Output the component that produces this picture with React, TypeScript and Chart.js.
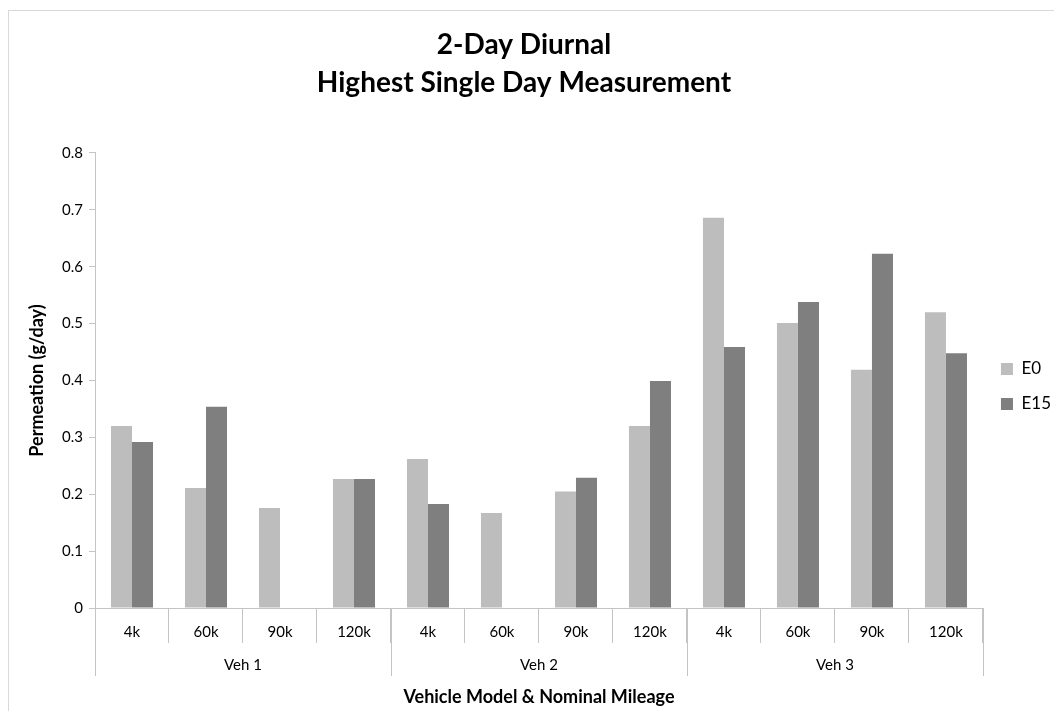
import React, { useEffect, useRef } from 'react';
import { Chart, registerables } from 'chart.js';

Chart.register(...registerables);

const VEHICLES = ['Veh 1', 'Veh 2', 'Veh 3'];
const MILEAGES = ['4k', '60k', '90k', '120k'];
const SERIES_NAMES = ['E0', 'E15'];
const E0_VALUES = [0.32, 0.211, 0.176, 0.227, 0.262, 0.167, 0.205, 0.32, 0.686, 0.501, 0.419, 0.52];
const E15_VALUES = [0.292, 0.354, null, 0.227, 0.183, null, 0.229, 0.399, 0.459, 0.538, 0.623, 0.448];
const Y_MIN = 0;
const Y_MAX = 0.8;
const Y_STEP = 0.1;

const TITLE_LINES = ['2-Day Diurnal', 'Highest Single Day Measurement'];
const X_TITLE = 'Vehicle Model & Nominal Mileage';
const Y_TITLE = 'Permeation (g/day)';

const FONT = 'Lato, "Open Sans", sans-serif';
const LINE_COLOR = '#c4c4c4';
const PAD_LEFT = -22;
const PAD_RIGHT = -7;

const CATEGORY_LABELS = VEHICLES.flatMap(() => MILEAGES);

const groupPlugin = {
  id: 'groupAxis',
  afterDraw(chart: any) {
    const xs = chart.scales.x;
    const ctx = chart.ctx;
    const bottom = chart.chartArea.bottom;
    const half = (xs.getPixelForValue(1) - xs.getPixelForValue(0)) / 2;
    const n = MILEAGES.length;
    ctx.save();
    ctx.strokeStyle = LINE_COLOR;
    ctx.lineWidth = 1;
    ctx.fillStyle = '#000';
    ctx.font = `15px ${FONT}`;
    ctx.textAlign = 'center';
    ctx.textBaseline = 'middle';
    VEHICLES.forEach((v, gi) => {
      const first = gi * n;
      const last = first + n - 1;
      const left = xs.getPixelForValue(first) - half;
      const right = xs.getPixelForValue(last) + half;
      [left, right].forEach((px) => {
        const xx = Math.round(px) + 0.5;
        ctx.beginPath();
        ctx.moveTo(xx, bottom);
        ctx.lineTo(xx, bottom + 68);
        ctx.stroke();
      });
      ctx.fillText(v, (left + right) / 2, bottom + 57);
    });
    ctx.restore();
  },
};

export default function App() {
  const ref = useRef<HTMLCanvasElement>(null);
  useEffect(() => {
    const chart = new Chart(ref.current as HTMLCanvasElement, {
      type: 'bar',
      data: {
        labels: CATEGORY_LABELS,
        datasets: [
          { label: SERIES_NAMES[0], data: E0_VALUES as any, backgroundColor: '#bdbdbd' },
          { label: SERIES_NAMES[1], data: E15_VALUES as any, backgroundColor: '#7f7f7f' },
        ],
      },
      options: {
        responsive: false,
        animation: false,
        layout: { padding: { left: PAD_LEFT, right: PAD_RIGHT, top: 0, bottom: 0 } },
        datasets: { bar: { categoryPercentage: 0.568, barPercentage: 1 } },
        plugins: {
          title: {
            display: true,
            text: TITLE_LINES,
            color: '#000',
            font: { family: FONT, size: 28, weight: 'bold', lineHeight: 1.357 },
            padding: { top: 15, bottom: 51 },
          },
          legend: {
            position: 'right',
            fullSize: false,
            title: { display: true, text: ' ', font: { size: 10, lineHeight: 1.2 }, padding: 0 },
            labels: {
              color: '#000',
              font: { family: FONT, size: 17 },
              boxWidth: 12,
              boxHeight: 12,
              padding: 18,
            },
          },
          tooltip: { enabled: false },
        },
        scales: {
          x: {
            ticks: { font: { family: FONT, size: 15 }, color: '#000', padding: -20, maxRotation: 0, autoSkip: false },
            grid: { drawOnChartArea: false, drawTicks: true, tickLength: 35, color: LINE_COLOR, offset: true },
            border: { display: true, color: LINE_COLOR },
            title: {
              display: true,
              text: X_TITLE,
              color: '#000',
              font: { family: FONT, size: 18, weight: 'bold' },
              padding: { top: 0, bottom: 3 },
            },
            afterFit: (s: any) => { s.height = 103; },
          },
          y: {
            min: Y_MIN,
            max: Y_MAX,
            ticks: { stepSize: Y_STEP, font: { family: FONT, size: 15 }, color: '#000', padding: 6 },
            grid: { drawOnChartArea: false, drawTicks: true, tickLength: 6, color: LINE_COLOR },
            border: { display: true, color: LINE_COLOR },
            title: {
              display: true,
              text: Y_TITLE,
              color: '#000',
              font: { family: FONT, size: 18, weight: 'bold' },
              padding: { top: 17 - PAD_LEFT, bottom: 0 },
            },
            afterFit: (s: any) => { s.width = 86 - PAD_LEFT; },
          },
        },
      } as any,
      plugins: [groupPlugin],
    });
    return () => chart.destroy();
  }, []);

  return (
    <div
      style={{
        position: 'absolute',
        left: 8,
        top: 10,
        width: 1045,
        height: 700,
        borderTop: '1px solid #d9d9d9',
        borderLeft: '1px solid #d9d9d9',
        background: '#fff',
      }}
    >
      <canvas ref={ref} width={1045} height={700} style={{ display: 'block' }} />
    </div>
  );
}
